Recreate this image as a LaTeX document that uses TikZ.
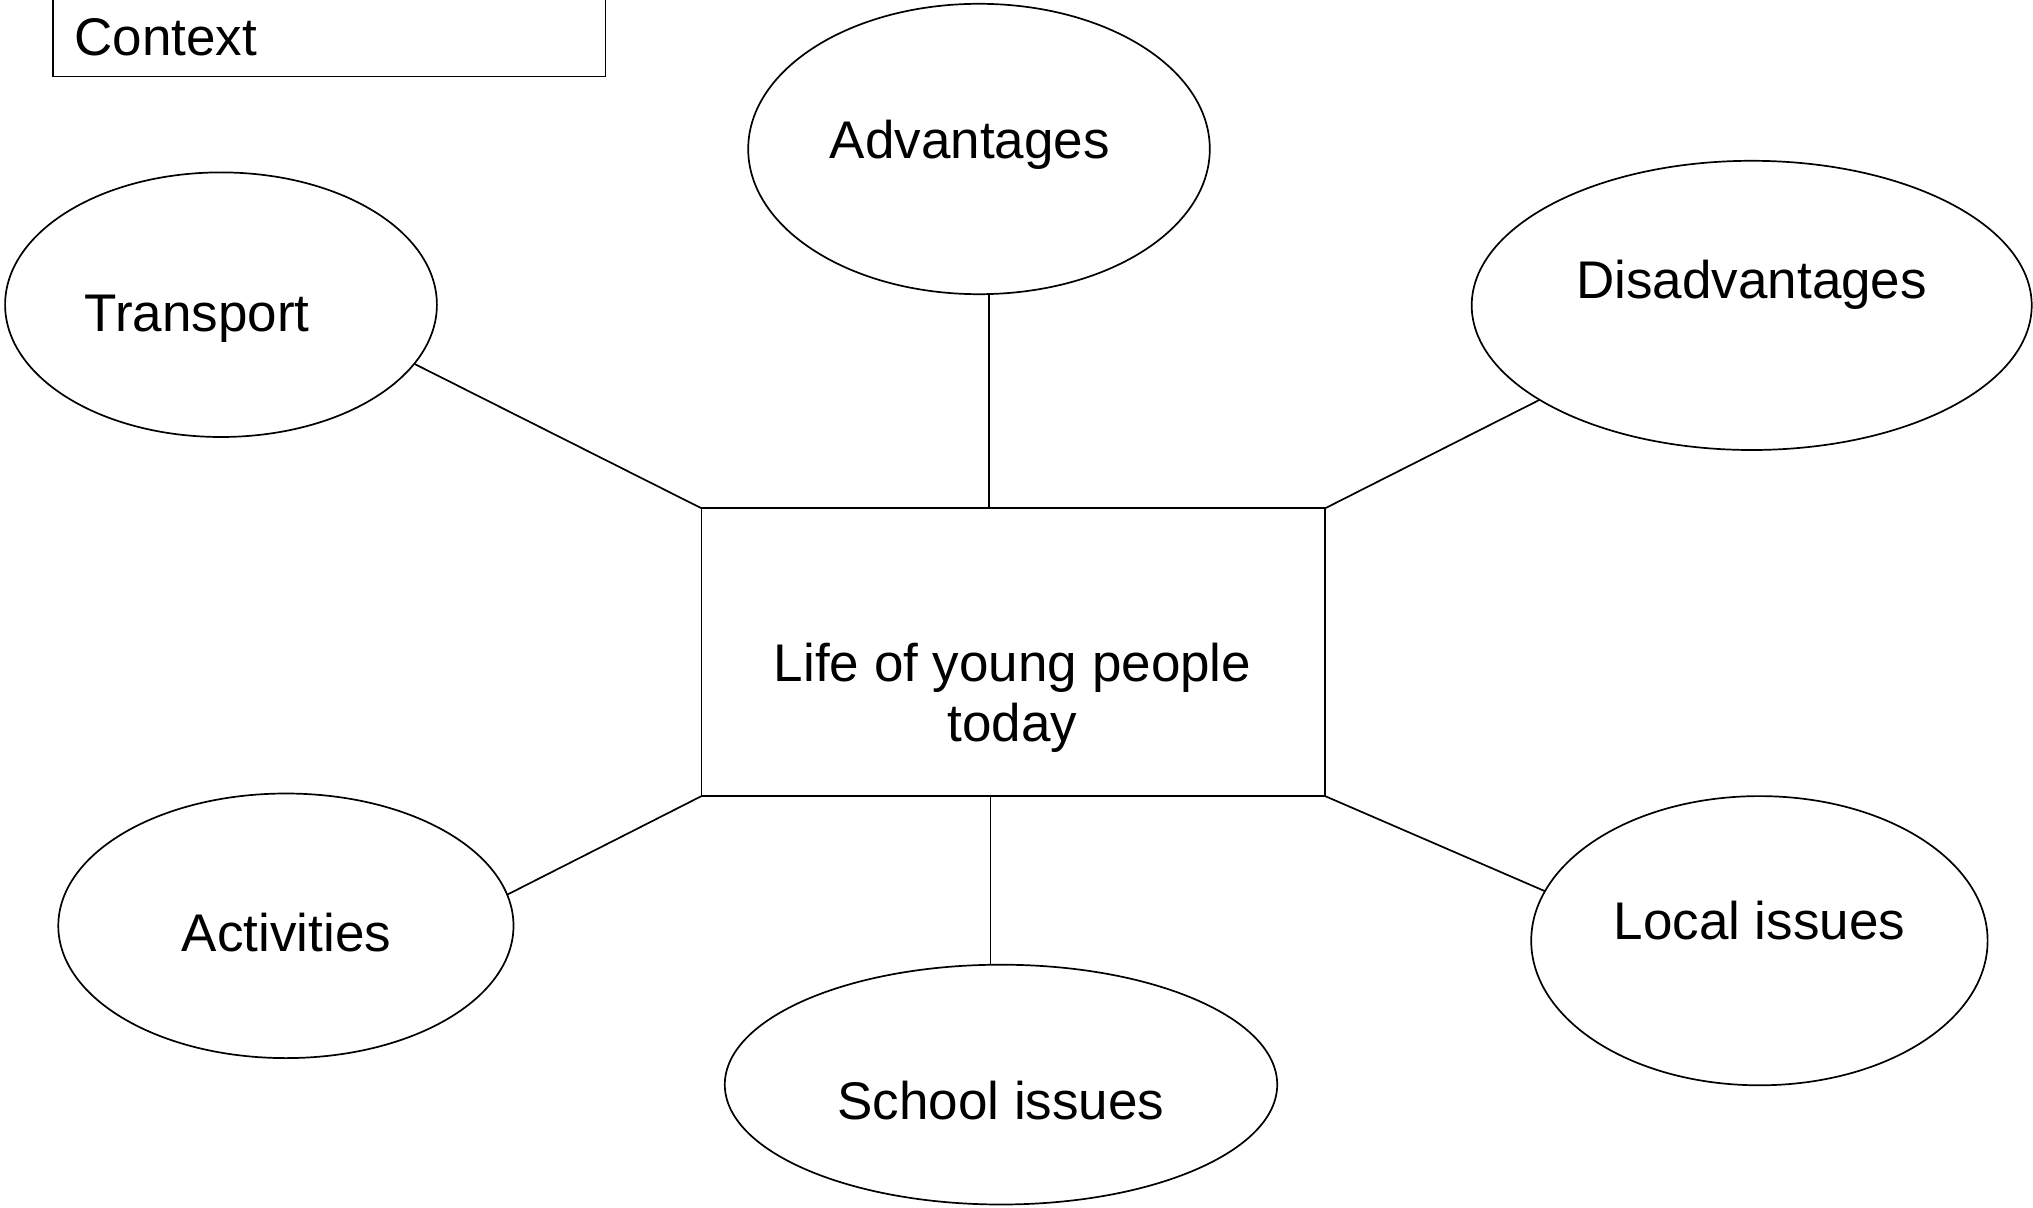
\documentclass[tikz,border=0pt]{standalone}
\usepackage{fontspec}
\setmainfont{Liberation Sans}
\usetikzlibrary{shapes.geometric}

\tikzset{
  topic/.style={draw, line width=0.85pt, ellipse, inner sep=0pt, outer sep=0pt},
  hub/.style={draw, line width=0.85pt, rectangle, inner sep=0pt, outer sep=0pt},
  caption/.style={inner sep=0pt, font=\fontsize{26.5}{29.8}\selectfont},
  link/.style={line width=0.85pt},
}

\begin{document}
\begin{tikzpicture}[x=0.5pt, y=-0.5pt]
  \useasboundingbox (0,0) rectangle (2033,1208);
  \clip (0,0) rectangle (2033,1208);
  \fill[white] (0,0) rectangle (2033,1208);

  % heading box, its top edge runs off the page
  \draw[link] (53.2,-20) rectangle (605.5,76.5);
  \node[caption, anchor=base west] (context) at (74,55.1) {Context};

  % central box
  \node[hub, minimum width=311.8pt, minimum height=143.9pt] (life) at (1013.3,652.2) {};
  \node[caption, align=center, anchor=base] (lifetext) at (1012.6,741) {Life of young people\\today};

  % surrounding topics
  \node[topic, minimum width=215.9pt, minimum height=132.3pt] (transport) at (221,304.7) {};
  \node[topic, minimum width=230.8pt, minimum height=145.2pt] (adv) at (979,149) {};
  \node[topic, minimum width=280pt,   minimum height=144.6pt] (disadv) at (1751.7,305.4) {};
  \node[topic, minimum width=227.6pt, minimum height=132.3pt] (activities) at (285.9,925.8) {};
  \node[topic, minimum width=276.2pt, minimum height=119.9pt] (school) at (1001,1084.6) {};
  \node[topic, minimum width=228.2pt, minimum height=144.6pt] (local) at (1759.4,940.7) {};

  \node[caption, anchor=base] (transporttext) at (197.1,331.3) {Transport};
  \node[caption, anchor=base] (advtext) at (969.9,158.8) {Advantages};
  \node[caption, anchor=base] (disadvtext) at (1751.7,298.9) {Disadvantages};
  \node[caption, anchor=base] (activitiestext) at (286.5,951.1) {Activities};
  \node[caption, anchor=base] (schooltext) at (1001,1119.6) {School issues};
  \node[caption, anchor=base] (localtext) at (1759.4,939.4) {Local issues};

  % connectors
  \draw[link] (transport.-17.7) -- (life.north west);
  \draw[link] (adv.-86) -- (adv.-86 |- life.north);
  \draw[link] (disadv.204) -- (life.north east);
  \draw[link] (activities.8.2) -- (life.south west);
  \draw[link] (school.95.6) -- (school.95.6 |- life.south);
  \draw[link] (local.167.7) -- (life.south east);
\end{tikzpicture}
\end{document}
